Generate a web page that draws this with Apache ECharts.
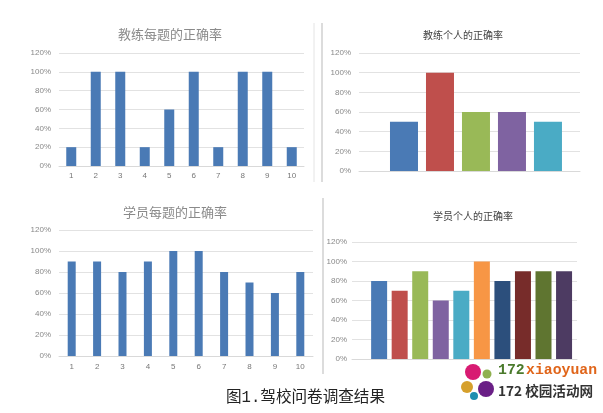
<!DOCTYPE html>
<html>
<head>
<meta charset="utf-8">
<title>驾校问卷调查结果</title>
<script src="https://cdn.jsdelivr.net/npm/echarts@6/dist/echarts.min.js"></script>
<style>
  html, body { margin: 0; padding: 0; background: #fff; }
  #chart { width: 603px; height: 413px; filter: blur(0.4px); }
</style>
</head>
<body>
<div id="chart"></div>
<script>
// 数据
const coachQuestionCats = ["1", "2", "3", "4", "5", "6", "7", "8", "9", "10"];
const coachQuestionVals = [20, 100, 100, 20, 60, 100, 20, 100, 100, 20];
const studentQuestionCats = ["1", "2", "3", "4", "5", "6", "7", "8", "9", "10"];
const studentQuestionVals = [90, 90, 80, 90, 100, 100, 80, 70, 60, 80];
const coachPersonX = [1, 2, 3, 4, 5];
const coachPersonVals = [50, 100, 60, 60, 50];
const studentPersonX = [1, 2, 3, 4, 5, 6, 7, 8, 9, 10];
const studentPersonVals = [80, 70, 90, 60, 70, 100, 80, 90, 90, 90];
const titles = ["教练每题的正确率", "教练个人的正确率", "学员每题的正确率", "学员个人的正确率"];
const barColors = ["#4a7ab5", "#bf4f4c", "#99b957", "#7f63a1", "#4aabc5", "#f79645",
  "#2c4f7c", "#772c2a", "#5f7530", "#4d3b62"];

const yAxisOf = (gridIndex, margin) => ({
  type: "value", gridIndex, min: 0, max: 120, interval: 20,
  axisLine: { show: false },
  axisTick: { show: false },
  axisLabel: { formatter: "{value}%", color: "#888", fontSize: 8, margin, fontFamily: "Liberation Sans" },
  splitLine: { lineStyle: { color: "#e2e2e2", width: 1 } },
});

const catAxisOf = (gridIndex, data, margin) => ({
  type: "category", gridIndex, data,
  axisLine: { lineStyle: { color: "#d9d9d9" } },
  axisTick: { show: false },
  axisLabel: { color: "#777", fontSize: 8, margin, fontFamily: "Liberation Sans" },
});

// 右边两个图的网格线比柱子区域宽，用数值轴留出左右空白
const hiddenAxisOf = (gridIndex, min, max) => ({
  type: "value", gridIndex, min, max,
  axisLine: { show: true, lineStyle: { color: "#d9d9d9" } },
  axisTick: { show: false },
  axisLabel: { show: false },
  splitLine: { show: false },
});

const titleOf = (text, left, top, fontSize, color) => ({
  text, left, top, textAlign: "center",
  textStyle: { fontSize, fontWeight: "normal", color, fontFamily: "Noto Sans CJK SC" },
});

const colored = (xs, vals) => vals.map((v, i) => ({
  value: [xs[i], v], itemStyle: { color: barColors[i] },
}));

const option = {
  animation: false,
  backgroundColor: "#fff",
  title: [
    titleOf(titles[0], 165, 23, 13, "#8a8a8a"),
    titleOf(titles[1], 458, 25, 10, "#444"),
    titleOf(titles[2], 170, 201, 13, "#8a8a8a"),
    titleOf(titles[3], 468, 206, 10, "#444"),
  ],
  grid: [
    { left: 59, top: 53, width: 245, height: 113 },
    { left: 359, top: 53, width: 221, height: 118 },
    { left: 59, top: 230, width: 254, height: 126 },
    { left: 352, top: 242, width: 225, height: 117 },
  ],
  xAxis: [
    catAxisOf(0, coachQuestionCats, 6),
    hiddenAxisOf(1, -0.25, 5.89),
    catAxisOf(2, studentQuestionCats, 7),
    hiddenAxisOf(3, -0.32, 10.63),
  ],
  yAxis: [yAxisOf(0, 8), yAxisOf(1, 8), yAxisOf(2, 8), yAxisOf(3, 5)],
  series: [
    { type: "bar", xAxisIndex: 0, yAxisIndex: 0, barWidth: 10, itemStyle: { color: "#4a7ab5" }, data: coachQuestionVals },
    { type: "bar", xAxisIndex: 1, yAxisIndex: 1, barWidth: 28, data: colored(coachPersonX, coachPersonVals) },
    { type: "bar", xAxisIndex: 2, yAxisIndex: 2, barWidth: 8, itemStyle: { color: "#4a7ab5" }, data: studentQuestionVals },
    { type: "bar", xAxisIndex: 3, yAxisIndex: 3, barWidth: 16, data: colored(studentPersonX, studentPersonVals) },
  ],
  graphic: [
    // 分隔线
    { type: "line", shape: { x1: 314, y1: 23, x2: 314, y2: 182 }, style: { stroke: "#e4e4e4", lineWidth: 1 } },
    { type: "line", shape: { x1: 322, y1: 23, x2: 322, y2: 182 }, style: { stroke: "#dcdcdc", lineWidth: 2 } },
    { type: "line", shape: { x1: 323, y1: 198, x2: 323, y2: 374 }, style: { stroke: "#dcdcdc", lineWidth: 2 } },
    // 图注
    { type: "text", x: 226, y: 390, style: { text: "图1.驾校问卷调查结果", fill: "#222", font: "15.6px 'Liberation Mono', 'Noto Sans CJK SC'" } },
    // 水印
    { type: "circle", shape: { cx: 473, cy: 372, r: 8 }, style: { fill: "#d81b72" }, z: 10 },
    { type: "circle", shape: { cx: 487, cy: 374, r: 4.5 }, style: { fill: "#8fb04f" }, z: 10 },
    { type: "circle", shape: { cx: 467, cy: 387, r: 6 }, style: { fill: "#d6a02c" }, z: 10 },
    { type: "circle", shape: { cx: 486, cy: 389, r: 8 }, style: { fill: "#6a1f86" }, z: 10 },
    { type: "circle", shape: { cx: 474, cy: 396, r: 4 }, style: { fill: "#1f8fb0" }, z: 10 },
    { type: "text", x: 498, y: 363, z: 10, style: { text: "172", fill: "#4a7a2c", font: "bold 14.8px 'Liberation Mono'" } },
    { type: "text", x: 526, y: 363, z: 10, style: { text: "xiaoyuan", fill: "#e0651a", font: "bold 14.8px 'Liberation Mono'" } },
    { type: "text", x: 498, y: 384, z: 10, style: { text: "172 校园活动网", fill: "#333", font: "bold 13.6px 'Noto Sans CJK SC'" } },
  ],
};

const myChart = echarts.init(document.getElementById("chart"));
myChart.setOption(option);
</script>
</body>
</html>
